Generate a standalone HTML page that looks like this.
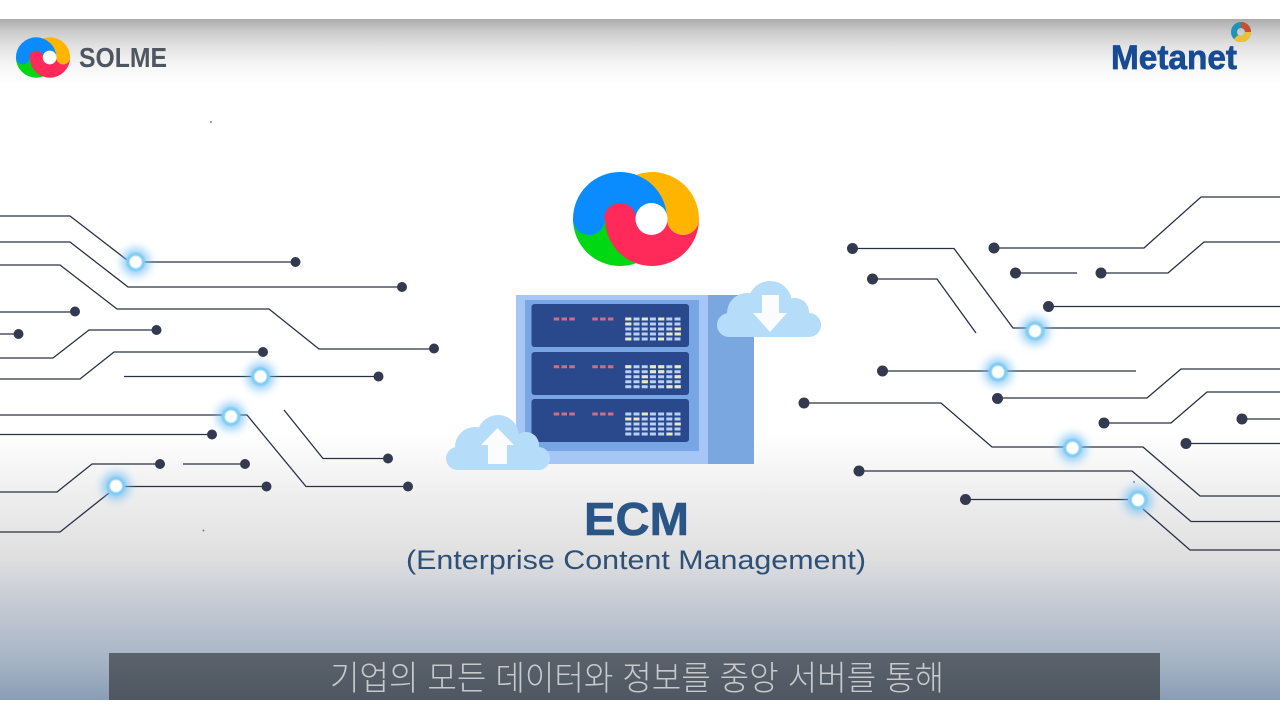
<!DOCTYPE html>
<html lang="ko"><head><meta charset="utf-8"><title>ECM</title>
<style>html,body{margin:0;padding:0;background:#fff}svg{display:block}</style></head>
<body>
<svg xmlns="http://www.w3.org/2000/svg" width="1280" height="720" viewBox="0 0 1280 720">
<defs>
<linearGradient id="bg" x1="0" y1="19" x2="0" y2="700" gradientUnits="userSpaceOnUse">
<stop offset="0" stop-color="#ababab"/><stop offset="0.018" stop-color="#cbcbcb"/><stop offset="0.04" stop-color="#e2e2e2"/><stop offset="0.065" stop-color="#f4f4f4"/><stop offset="0.095" stop-color="#fff"/>
<stop offset="0.61" stop-color="#fff"/><stop offset="0.7" stop-color="#eeeeee"/><stop offset="0.79" stop-color="#dfdfe0"/><stop offset="0.87" stop-color="#c0c7d1"/><stop offset="0.94" stop-color="#a8b5c6"/><stop offset="1" stop-color="#8a9db6"/>
</linearGradient>
<linearGradient id="cap" x1="0" y1="0" x2="0" y2="1"><stop offset="0" stop-color="#5b626b"/><stop offset="1" stop-color="#4e5762"/></linearGradient>
<filter id="b" x="-100%" y="-100%" width="300%" height="300%"><feGaussianBlur stdDeviation="4.500"/></filter>
<filter id="s" x="-30%" y="-30%" width="160%" height="160%"><feGaussianBlur stdDeviation="0.600"/></filter>
<filter id="g" x="-5%" y="-20%" width="110%" height="140%"><feGaussianBlur stdDeviation="0.350"/></filter>
<g id="logo">
<path fill="#00d814" d="M573 219A47 47 0 0 0 667 219Z"/>
<path fill="#ffb400" d="M637 174.500A47 47 0 0 1 699 219A16 16 0 0 1 667 219L637 219Z"/>
<path fill="#0a8cff" d="M573 219A47 47 0 0 1 667 219L605 219A16 16 0 0 1 573 219Z"/>
<path fill="#ff2a5a" d="M604 219A16 16 0 0 1 636 219A16 16 0 0 0 667 219A16 16 0 0 0 699 219A47 47 0 0 1 605 219Z"/>
<circle cx="651.500" cy="219" r="16" fill="#fff"/>
</g>
<g id="glow">
<circle r="14" fill="#6dbdf5" opacity=".7" filter="url(#b)"/>
<circle r="9.500" fill="#82cdf3" filter="url(#s)"/>
<circle r="6.200" fill="#fff" filter="url(#s)"/>
</g>
<g id="grid" stroke="#b9d1f6" stroke-width="3" stroke-dasharray="6 2.200" filter="url(#g)">
<path d="M625.300 319H682M625.300 324H682M625.300 329H682M625.300 334H682M625.300 339H682"/>
<path stroke="#cc6f88" stroke-dasharray="5.500 2.300" d="M553.700 319H577M592.300 319H615"/>
</g>
</defs>

<rect width="1280" height="720" fill="#fff"/>
<rect y="19" width="1280" height="681" fill="url(#bg)"/>

<!-- top logos -->
<use href="#logo" transform="translate(43 57.500) scale(.43) translate(-636 -219)"/>
<text x="79" y="67" font-family="'Liberation Sans',sans-serif" font-weight="700" font-size="28" fill="#4f5660" textLength="88" lengthAdjust="spacingAndGlyphs">SOLME</text>
<text x="1111" y="69" font-family="'Liberation Sans',sans-serif" font-weight="700" font-size="34" fill="#174c94" stroke="#174c94" stroke-width=".7" textLength="126" lengthAdjust="spacingAndGlyphs">Metanet</text>
<g fill="none" stroke-width="6">
<circle cx="1241" cy="32" r="7" stroke="#1f93b5"/>
<path d="M1241 25A7 7 0 0 1 1248 32" stroke="#c8502f"/>
<path d="M1248 32A7 7 0 0 1 1236 37" stroke="#f0c030"/>
</g>

<!-- connectors -->
<g fill="none" stroke="#2a3042" stroke-width="1.300">
<path d="M0 216H70L127 260M136 262H295"/>
<path d="M0 242H70L128 287H402"/>
<path d="M0 265H60L117 309H269L319 349H434"/>
<path d="M0 312H75"/><path d="M0 334H18"/>
<path d="M0 358H53L89 330H156"/>
<path d="M0 379H80L114 352H263"/>
<path d="M124 376.500H378"/>
<path d="M0 415H247L306 486.500H408"/>
<path d="M0 434.500H212"/>
<path d="M284 410L323 458.500H388"/>
<path d="M0 492H57L92 464H160"/>
<path d="M183 464H245"/>
<path d="M116 486.500H266M109 493L60 532H0"/>

<path d="M853 248.500H954L1013 328H1280"/>
<path d="M873 279H937L976 333"/>
<path d="M994 248H1144L1201 197H1280"/>
<path d="M1015 273H1077"/>
<path d="M1101 273H1168L1204 242H1280"/>
<path d="M1049 306.500H1280"/>
<path d="M882 371H1136"/>
<path d="M997 398H1147L1181 369H1280"/>
<path d="M804 403H941L992 447H1143L1200 496H1280"/>
<path d="M1104 423H1171L1207 392H1280"/>
<path d="M1242 419H1280"/>
<path d="M1186 443.500H1280"/>
<path d="M859 471H1132L1191 521.500H1280"/>
<path d="M965 499.500H1128M1143 509L1190 550H1280"/>
</g>
<g fill="#333a50">
<circle cx="295.500" cy="262" r="5"/><circle cx="402" cy="287" r="5"/><circle cx="434" cy="348.500" r="5"/>
<circle cx="75" cy="311.500" r="5"/><circle cx="18.500" cy="334" r="5"/><circle cx="156.500" cy="330" r="5"/>
<circle cx="263" cy="352" r="5"/><circle cx="378.500" cy="376.500" r="5"/><circle cx="212" cy="434.500" r="5"/>
<circle cx="388" cy="458.500" r="5"/><circle cx="408" cy="486.500" r="5"/><circle cx="160" cy="464" r="5"/>
<circle cx="245" cy="464" r="5"/><circle cx="266.500" cy="486.500" r="5"/>
<circle cx="852.500" cy="248.500" r="5.500"/><circle cx="872.500" cy="279" r="5.500"/><circle cx="994" cy="248" r="5.500"/>
<circle cx="1015.500" cy="273" r="5.500"/><circle cx="1101" cy="273" r="5.500"/><circle cx="1048.500" cy="306.500" r="5.500"/>
<circle cx="882.500" cy="371" r="5.500"/><circle cx="997.500" cy="398.500" r="5.500"/><circle cx="804" cy="403" r="5.500"/>
<circle cx="1104" cy="423" r="5.500"/><circle cx="1242" cy="419" r="5.500"/><circle cx="1186" cy="443.500" r="5.500"/>
<circle cx="859" cy="471" r="5.500"/><circle cx="965.500" cy="499.500" r="5.500"/>
<circle cx="211" cy="122" r="1" opacity=".6"/><circle cx="203.500" cy="530.500" r="1" opacity=".6"/><circle cx="1134" cy="482" r="1" opacity=".6"/>
</g>
<use href="#glow" x="135.700" y="262"/><use href="#glow" x="260.500" y="376.500"/><use href="#glow" x="231" y="416.500"/><use href="#glow" x="116" y="486"/>
<use href="#glow" x="1035" y="331"/><use href="#glow" x="998" y="372"/><use href="#glow" x="1072.500" y="448"/><use href="#glow" x="1138" y="500"/>

<!-- main logo -->
<use href="#logo"/>

<!-- server -->
<rect x="516" y="295" width="192" height="169" fill="#a6c7f6"/>
<rect x="708" y="295" width="46" height="169" fill="#7aa7e0"/>
<rect x="525" y="300" width="174" height="151" fill="#78a6e4"/>
<rect x="531.500" y="304" width="157.500" height="43" rx="3" fill="#2a488c"/>
<rect x="531.500" y="352" width="157.500" height="43" rx="3" fill="#2a488c"/>
<rect x="531.500" y="399" width="157.500" height="43" rx="3" fill="#2a488c"/>
<use href="#grid"/><use href="#grid" y="47.700"/><use href="#grid" y="95"/>
<g stroke="#ece8c6" stroke-width="3" filter="url(#g)">
<path d="M625.300 319h6M641.900 319h6M658.300 319h6M625.300 324h6M674.900 334h6M666.600 334h6M625.300 339h6M658 339h6M674.900 329h6"/>
<path d="M625.300 366.700h6M650 366.700h6M658.300 366.700h6M674.900 366.700h6M650 371.700h6M658.300 371.700h6M641.900 376.700h6M674.900 376.700h6M641.900 381.700h6M666.600 386.700h6M674.900 386.700h6"/>
<path d="M641.900 414h6M625.300 419h6M633.500 419h6M674.900 424h6M666.600 434h6"/>
</g>

<!-- clouds -->
<g fill="#b5dcf8">
<rect x="446" y="447" width="104" height="23" rx="11.500"/>
<circle cx="475" cy="447" r="20"/><circle cx="498" cy="436" r="21"/><circle cx="526" cy="445" r="13"/>
<rect x="717" y="313" width="104" height="24" rx="12"/>
<circle cx="747" cy="313" r="20"/><circle cx="770" cy="303" r="22"/><circle cx="795" cy="312" r="14"/>
</g>
<path fill="#fbfcfd" d="M497.500 428L514 445H507V464H488V445H481Z"/>
<path fill="#fbfcfd" d="M762 295H779V313H787L770 332L753 313H762Z"/>

<!-- labels -->
<text x="584" y="535" font-family="'Liberation Sans',sans-serif" font-weight="700" font-size="46" fill="#2a5587" stroke="#2a5587" stroke-width=".6" textLength="105" lengthAdjust="spacingAndGlyphs">ECM</text>
<text x="406" y="569" font-family="'Liberation Sans',sans-serif" font-size="27" fill="#2e4f78" textLength="460" lengthAdjust="spacingAndGlyphs">(Enterprise Content Management)</text>

<!-- caption -->
<rect x="109" y="653" width="1051" height="47" fill="url(#cap)"/>
<text x="330" y="690" font-family="'Liberation Sans','Noto Sans CJK KR',sans-serif" font-weight="300" font-size="34" fill="#c6cacd" textLength="614" lengthAdjust="spacingAndGlyphs">기업의 모든 데이터와 정보를 중앙 서버를 통해</text>
</svg>
</body></html>
